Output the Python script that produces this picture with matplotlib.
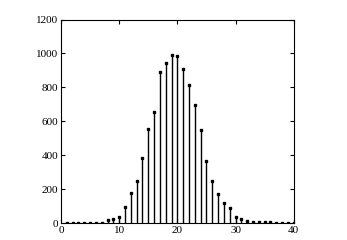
import matplotlib
matplotlib.use("Agg")
import matplotlib.pyplot as plt

# counts per bin
bins = list(range(1, 41))
counts = [2, 2, 2, 2, 2, 2, 2, 16, 25, 38,
          93, 176, 250, 383, 553, 655, 889, 942, 989, 987,
          907, 814, 694, 550, 364, 246, 171, 116, 88, 33,
          22, 11, 5, 4, 3, 4, 2, 2, 2, 2]
xticks = [0, 10, 20, 30, 40]
yticks = [0, 200, 400, 600, 800, 1000, 1200]

plt.rcParams["font.family"] = ["Liberation Serif", "DejaVu Serif"]

fig = plt.figure(figsize=(3.47, 2.40), dpi=100)
ax = fig.add_axes([0.1758, 0.0708, 0.6706, 0.8479])

markerline, stemlines, baseline = ax.stem(bins, counts, basefmt=" ")
plt.setp(stemlines, color="black", linewidth=1.0)
plt.setp(markerline, color="black", marker="s", markersize=2.0,
         markerfacecolor="black")

ax.set_xlim(0, 40)
ax.set_ylim(0, 1200)
ax.set_xticks(xticks)
ax.set_yticks(yticks)
ax.tick_params(direction="in", length=3, width=0.8, top=True, right=True,
               labelsize=8, pad=2)
for sp in ax.spines.values():
    sp.set_linewidth(0.8)

fig.savefig("out.png", dpi=100)
